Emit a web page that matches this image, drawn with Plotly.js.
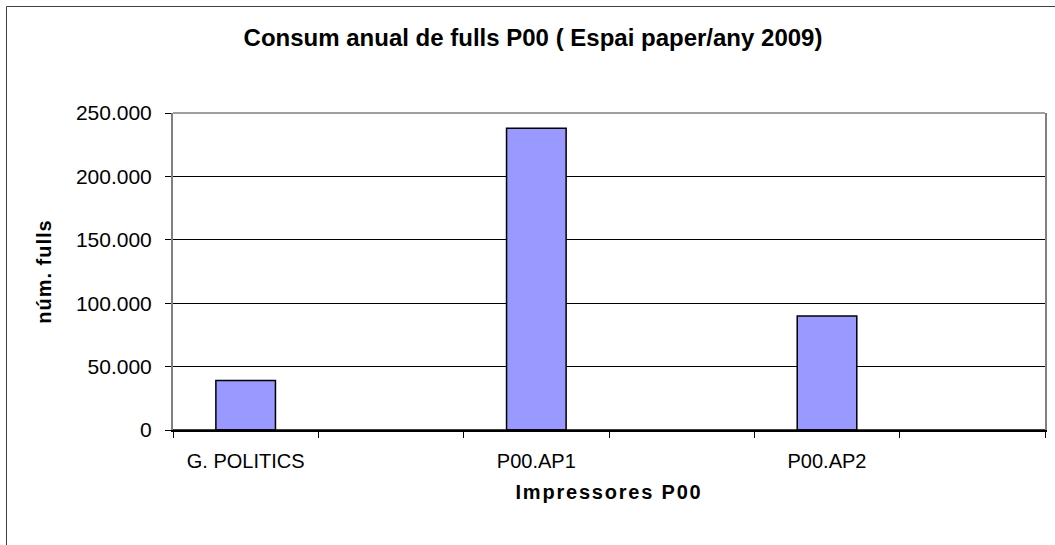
<!DOCTYPE html>
<html>
<head>
<meta charset="utf-8">
<script src="https://cdn.plot.ly/plotly-3.0.1.min.js"></script>
<style>
html,body{margin:0;padding:0;background:#fff;}
#chart{width:1055px;height:545px;}
.xtitle{letter-spacing:1.8px;}
.ytitle{letter-spacing:1px;}
</style>
</head>
<body>
<div id="chart"></div>
<script>
const categories = ["G. POLITICS", " ", "P00.AP1", "  ", "P00.AP2", "   "];
const sheets = [39000, null, 238000, null, 90000, null];
const yTickVals = [0, 50000, 100000, 150000, 200000, 250000];

const trace = {
  type: "bar",
  x: categories,
  y: sheets,
  width: 0.41,
  marker: {color: "#9999FF", line: {color: "#000000", width: 1.5}},
  hoverinfo: "skip"
};

const layout = {
  width: 1055, height: 545,
  margin: {l: 173, r: 10, t: 113, b: 115},
  paper_bgcolor: "#ffffff",
  plot_bgcolor: "#ffffff",
  separators: ",.",
  showlegend: false,
  font: {family: "Liberation Sans, Arial, sans-serif", color: "#000"},
  title: {
    text: "<b>Consum anual de fulls P00 ( Espai paper/any 2009)</b>",
    font: {size: 24, family: "Liberation Sans, Arial, sans-serif", color: "#000"},
    x: 533 / 1055, xref: "container", xanchor: "center",
    y: 1 - 38 / 545, yref: "container", yanchor: "middle"
  },
  xaxis: {
    type: "category",
    tickson: "boundaries",
    ticks: "outside", ticklen: 6, tickcolor: "#000", tickwidth: 1,
    showline: true, linecolor: "#000", linewidth: 1.5,
    showgrid: false, zeroline: false,
    tickfont: {size: 20},
    ticklabelstandoff: 12,
    title: {text: "<b>Impressores P00</b>", font: {size: 20}, standoff: 14}
  },
  yaxis: {
    range: [0, 250000],
    tickvals: yTickVals,
    tickformat: ",d",
    ticks: "outside", ticklen: 6, tickcolor: "#000", tickwidth: 1,
    showline: true, linecolor: "#808080", linewidth: 2, mirror: true,
    showgrid: true, gridcolor: "#000", gridwidth: 1,
    zeroline: false,
    tickfont: {size: 21},
    ticklabelstandoff: 9,
    title: {text: "<b>núm. fulls</b>", font: {size: 20}, standoff: 19}
  },
  shapes: [
    {type: "line", xref: "paper", yref: "paper", x0: 0, x1: 1, y0: 1, y1: 1,
     line: {color: "#a0a0a0", width: 2}, layer: "above"},
    {type: "line", xref: "paper", yref: "paper", x0: 0, x1: 1, y0: 0, y1: 0,
     line: {color: "#000", width: 1.5}, layer: "above"},
    {type: "rect", xref: "paper", yref: "paper",
     x0: (6.5 - 173) / 872, x1: 2, y0: -2, y1: (430 - 6.5) / 317,
     line: {color: "#404040", width: 1}, fillcolor: "rgba(0,0,0,0)", layer: "below"}
  ]
};

Plotly.newPlot("chart", [trace], layout, {displayModeBar: false, staticPlot: true});
</script>
</body>
</html>
